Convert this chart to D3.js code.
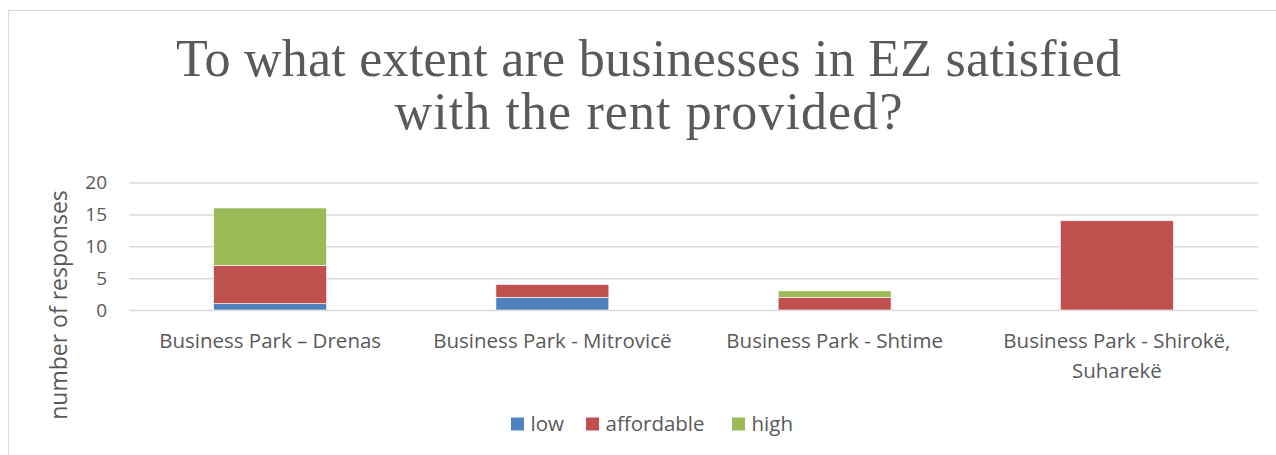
<!DOCTYPE html>
<html>
<head>
<meta charset="utf-8">
<script src="https://cdn.jsdelivr.net/npm/d3@7"></script>
<style>
  html, body { margin: 0; padding: 0; background: #fff; }
  svg { display: block; }
</style>
</head>
<body>
<svg id="chart" width="1276" height="455"></svg>
<script>
// Survey responses per business park, stacked by rent rating
const categories = [
  "Business Park \u2013 Drenas",
  "Business Park - Mitrovic\u00eb",
  "Business Park - Shtime",
  "Business Park - Shirok\u00eb, Suharek\u00eb"
];
const seriesNames = ["low", "affordable", "high"];
const lowValues = [1, 2, 0, 0];
const affordableValues = [6, 2, 2, 14];
const highValues = [9, 0, 1, 0];
const yTicks = [0, 5, 10, 15, 20];
const titleLines = [
  "To what extent are businesses in EZ satisfied",
  "with the rent provided?"
];
const yTitle = "number of responses";

const colors = { low: "#4f81bd", affordable: "#c0504d", high: "#9bbb59" };
const textColor = "#595959";
const gridColor = "#d9d9d9";
const sansFont = "'Open Sans', 'Liberation Sans', sans-serif";

const rows = categories.map((c, i) => ({
  category: c,
  low: lowValues[i],
  affordable: affordableValues[i],
  high: highValues[i]
}));

const svg = d3.select("#chart");

// outer chart frame
svg.append("rect")
  .attr("x", 8.5).attr("y", 10.5)
  .attr("width", 1300).attr("height", 500)
  .attr("fill", "none").attr("stroke", gridColor).attr("stroke-width", 1);

// title
const titleLens = [945, 508];
svg.append("g").selectAll("text")
  .data(titleLines)
  .join("text")
  .attr("x", 648.5)
  .attr("y", (d, i) => 76 + i * 53)
  .attr("text-anchor", "middle")
  .attr("font-family", "'Liberation Serif', serif")
  .attr("font-size", 52)
  .attr("fill", textColor)
  .attr("textLength", (d, i) => titleLens[i])
  .attr("lengthAdjust", "spacing")
  .text(d => d);

const plot = { left: 129, right: 1258, top: 182.5, bottom: 310 };

const x = d3.scaleBand()
  .domain(categories)
  .range([plot.left, plot.right])
  .paddingInner(0.6)
  .paddingOuter(0.3);

const y = d3.scaleLinear()
  .domain([0, 20])
  .range([plot.bottom, plot.top]);

// gridlines + y labels
const yAxis = d3.axisLeft(y)
  .tickValues(yTicks)
  .tickSize(-(plot.right - plot.left))
  .tickPadding(22);

const gy = svg.append("g")
  .attr("transform", `translate(${plot.left},0)`)
  .call(yAxis);
gy.select(".domain").remove();
gy.selectAll(".tick line")
  .attr("stroke", gridColor)
  .attr("stroke-width", 1.5);
gy.selectAll(".tick text")
  .attr("fill", textColor)
  .attr("font-family", sansFont)
  .attr("font-size", 19)
  .attr("dy", "0.34em");

// stacked bars
const stack = d3.stack().keys(seriesNames);
const layers = stack(rows);

svg.append("g").selectAll("g")
  .data(layers)
  .join("g")
  .attr("fill", d => colors[d.key])
  .selectAll("rect")
  .data(d => d.filter(s => s[1] > s[0]))
  .join("rect")
  .attr("x", d => x(d.data.category))
  .attr("width", x.bandwidth())
  .attr("y", d => y(d[1]))
  .attr("height", d => y(d[0]) - y(d[1]))
  .attr("stroke", "#fff")
  .attr("stroke-width", 0.6);

// x axis labels
const xAxis = d3.axisBottom(x).tickSize(0).tickPadding(0);
const gx = svg.append("g")
  .attr("transform", `translate(0,${plot.bottom})`)
  .call(xAxis);
gx.select(".domain").remove();
gx.selectAll(".tick text")
  .attr("fill", textColor)
  .attr("font-family", sansFont)
  .attr("font-size", 20.5)
  .attr("y", 37.5)
  .attr("dy", 0)
  .call(wrap, x.step() - 10, 30);

function wrap(sel, width, lineHeight) {
  sel.each(function () {
    const t = d3.select(this);
    const words = t.text().split(/\s+/);
    const yPos = t.attr("y");
    t.text(null);
    let line = [];
    let lineNo = 0;
    let tspan = t.append("tspan").attr("x", 0).attr("y", yPos);
    for (const w of words) {
      line.push(w);
      tspan.text(line.join(" "));
      if (tspan.node().getComputedTextLength() > width && line.length > 1) {
        line.pop();
        tspan.text(line.join(" "));
        line = [w];
        lineNo++;
        tspan = t.append("tspan").attr("x", 0).attr("y", yPos)
          .attr("dy", lineNo * lineHeight).text(w);
      }
    }
  });
}

// y axis title
svg.append("text")
  .attr("transform", `translate(67,305) rotate(-90)`)
  .attr("text-anchor", "middle")
  .attr("font-family", sansFont)
  .attr("font-size", 23)
  .attr("fill", textColor)
  .text(yTitle);

// legend
const legendX = [511, 586, 732];
const legend = svg.append("g").selectAll("g")
  .data(seriesNames)
  .join("g")
  .attr("transform", (d, i) => `translate(${legendX[i]},417.5)`);
legend.append("rect")
  .attr("width", 13).attr("height", 13)
  .attr("fill", d => colors[d]);
legend.append("text")
  .attr("x", 19.5).attr("y", 13.5)
  .attr("font-family", sansFont)
  .attr("font-size", 20.5)
  .attr("fill", textColor)
  .text(d => d);
</script>
</body>
</html>
